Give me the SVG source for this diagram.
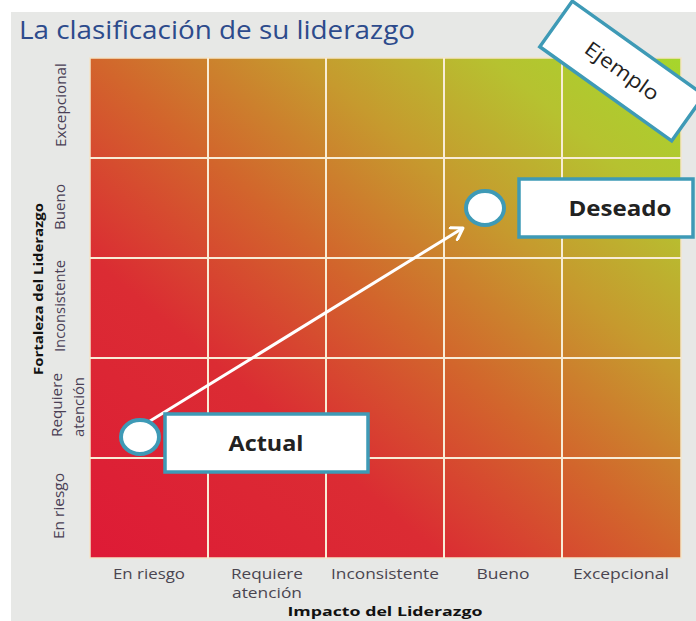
<svg xmlns="http://www.w3.org/2000/svg" width="696" height="621" viewBox="0 0 696 621">
<defs>
<linearGradient id="heat" x1="0" y1="1" x2="1" y2="0">
<stop offset="0" stop-color="#de1a36"/>
<stop offset="0.3" stop-color="#db2c33"/>
<stop offset="0.5" stop-color="#d2652c"/>
<stop offset="0.68" stop-color="#c69a2e"/>
<stop offset="0.84" stop-color="#b6c230"/>
<stop offset="1" stop-color="#a6d62c"/>
</linearGradient>
<marker id="arr" markerWidth="16" markerHeight="16" refX="13" refY="8" orient="auto" markerUnits="userSpaceOnUse">
<path d="M2,1 L13,8 L2,15" fill="none" stroke="#ffffff" stroke-width="3" stroke-linecap="round" stroke-linejoin="round"/>
</marker>
</defs>
<style>
.grid{stroke:#f8ecd6;stroke-width:2;fill:none}
.ylab{font-family:"Open Sans","Liberation Sans",sans-serif;font-size:14px;fill:#4a3f55}
.xlab{font-family:"Open Sans","Liberation Sans",sans-serif;font-size:14px;fill:#4a4550}
.axis{font-family:"Open Sans","Liberation Sans",sans-serif;font-weight:bold;font-size:13px;fill:#111}
.box{fill:#ffffff;stroke:#3e9ab6;stroke-width:3.5}
.dot{fill:#ffffff;stroke:#3e9ab6;stroke-width:4}
.lbl{font-family:"Open Sans","Liberation Sans",sans-serif;font-weight:bold;font-size:21px;fill:#222;text-anchor:middle}
</style>
<rect x="0" y="0" width="696" height="621" fill="#ffffff"/>
<rect x="11" y="12" width="685" height="609" fill="#e7e8e6"/>
<text x="19" y="39" font-family="'Open Sans','Liberation Sans',sans-serif" font-size="26" fill="#2d4b8c" textLength="396" lengthAdjust="spacingAndGlyphs">La clasificación de su liderazgo</text>
<g id="chart">
<rect x="90" y="58" width="591" height="500" fill="url(#heat)" stroke="#f3e4c8" stroke-width="1.5"/>
<path class="grid" d="M208,58V558M326,58V558M444,58V558M562,58V558M90,158H681M90,258H681M90,358H681M90,458H681"/>
</g>
<g id="y-labels">
<text class="ylab" transform="translate(66,105) rotate(-90)" text-anchor="middle" textLength="84" lengthAdjust="spacingAndGlyphs">Excepcional</text>
<text class="ylab" transform="translate(65,207) rotate(-90)" text-anchor="middle" textLength="46" lengthAdjust="spacingAndGlyphs">Bueno</text>
<text class="ylab" transform="translate(65,306) rotate(-90)" text-anchor="middle" textLength="92" lengthAdjust="spacingAndGlyphs">Inconsistente</text>
<text class="ylab" transform="translate(62,405) rotate(-90)" text-anchor="middle" textLength="64" lengthAdjust="spacingAndGlyphs">Requiere</text>
<text class="ylab" transform="translate(84,407) rotate(-90)" text-anchor="middle" textLength="60" lengthAdjust="spacingAndGlyphs">atención</text>
<text class="ylab" transform="translate(64,506) rotate(-90)" text-anchor="middle" textLength="66" lengthAdjust="spacingAndGlyphs">En riesgo</text>
<text class="axis" transform="translate(43,289) rotate(-90)" text-anchor="middle" textLength="172" lengthAdjust="spacingAndGlyphs">Fortaleza del Liderazgo</text>
</g>
<g id="x-labels">
<text class="xlab" x="149" y="579" text-anchor="middle" textLength="72" lengthAdjust="spacingAndGlyphs">En riesgo</text>
<text class="xlab" x="267" y="579" text-anchor="middle" textLength="72" lengthAdjust="spacingAndGlyphs">Requiere</text>
<text class="xlab" x="267" y="598" text-anchor="middle" textLength="70" lengthAdjust="spacingAndGlyphs">atención</text>
<text class="xlab" x="385" y="579" text-anchor="middle" textLength="108" lengthAdjust="spacingAndGlyphs">Inconsistente</text>
<text class="xlab" x="503" y="579" text-anchor="middle" textLength="53" lengthAdjust="spacingAndGlyphs">Bueno</text>
<text class="xlab" x="621" y="579" text-anchor="middle" textLength="96" lengthAdjust="spacingAndGlyphs">Excepcional</text>
<text class="axis" x="385" y="616" font-size="15" text-anchor="middle" textLength="195" lengthAdjust="spacingAndGlyphs">Impacto del Liderazgo</text>
</g>
<g id="connectors">
<line x1="150" y1="421" x2="463" y2="228" stroke="#ffffff" stroke-width="3" marker-end="url(#arr)"/>
</g>
<g id="actual">
<ellipse class="dot" cx="140" cy="437" rx="19" ry="17"/>
<rect class="box" x="165" y="414" width="203" height="58"/>
<text class="lbl" x="266" y="451" textLength="75" lengthAdjust="spacingAndGlyphs">Actual</text>
</g>
<g id="deseado">
<ellipse class="dot" cx="485" cy="208" rx="19" ry="17"/>
<rect class="box" x="519" y="179" width="174" height="58"/>
<text class="lbl" x="620" y="216" textLength="103" lengthAdjust="spacingAndGlyphs">Deseado</text>
</g>
<g id="ejemplo" transform="translate(622,71) rotate(35.5)">
<rect class="box" x="-81" y="-28" width="162" height="56"/>
<text x="0" y="7" font-family="'Open Sans','Liberation Sans',sans-serif" font-size="20" fill="#222" text-anchor="middle" textLength="86" lengthAdjust="spacingAndGlyphs">Ejemplo</text>
</g>
</svg>
